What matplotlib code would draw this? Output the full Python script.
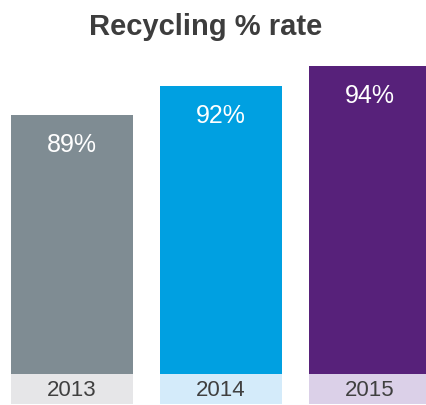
import matplotlib.pyplot as plt
import numpy as np

plt.rcParams['font.family'] = ['Liberation Sans', 'DejaVu Sans']

# Chart data
years = ['2013', '2014', '2015']
rates = [89, 92, 94]
bar_colors = ['#7f8c93', '#00a0e1', '#57217a']
box_colors = ['#e6e6e8', '#d4ebfa', '#dbd0e8']

W, H = 427, 405
fig = plt.figure(figsize=(W / 100, H / 100), dpi=100)

x = np.arange(len(years))
width = 122 / 149
xlim = (-72 / 149, (W - 72) / 149)

# main bar axes: bottom at pixel 374, top at pixel 40
ax = fig.add_axes([0, (H - 374) / H, 1, (374 - 40) / H])
ymin = 62.6
ax.set_xlim(*xlim)
ax.set_ylim(ymin, ymin + (374 - 40) / 9.8)
rects = ax.bar(x, np.array(rates) - ymin, width, bottom=ymin, color=bar_colors)
for rect, r in zip(rects, rates):
    ax.annotate(f'{r}%',
                xy=(rect.get_x() + rect.get_width() / 2, rect.get_y() + rect.get_height()),
                xytext=(0, -30), textcoords='offset pixels',
                ha='center', va='center', color='white', fontsize=18)
ax.axis('off')

# year label boxes under the bars
lab = fig.add_axes([0, (H - 404) / H, 1, 30 / H])
lab.set_xlim(*xlim)
lab.set_ylim(0, 1)
lab.bar(x, [1] * len(years), width, color=box_colors)
for xi, yr in zip(x, years):
    lab.text(xi, 0.45, yr, ha='center', va='center', color='#404040', fontsize=16)
lab.axis('off')

fig.text(206 / W, (H - 35) / H, 'Recycling % rate', ha='center', va='baseline',
         fontsize=21, fontweight='bold', color='#3d3d3d')

fig.savefig('out.png', dpi=100)
